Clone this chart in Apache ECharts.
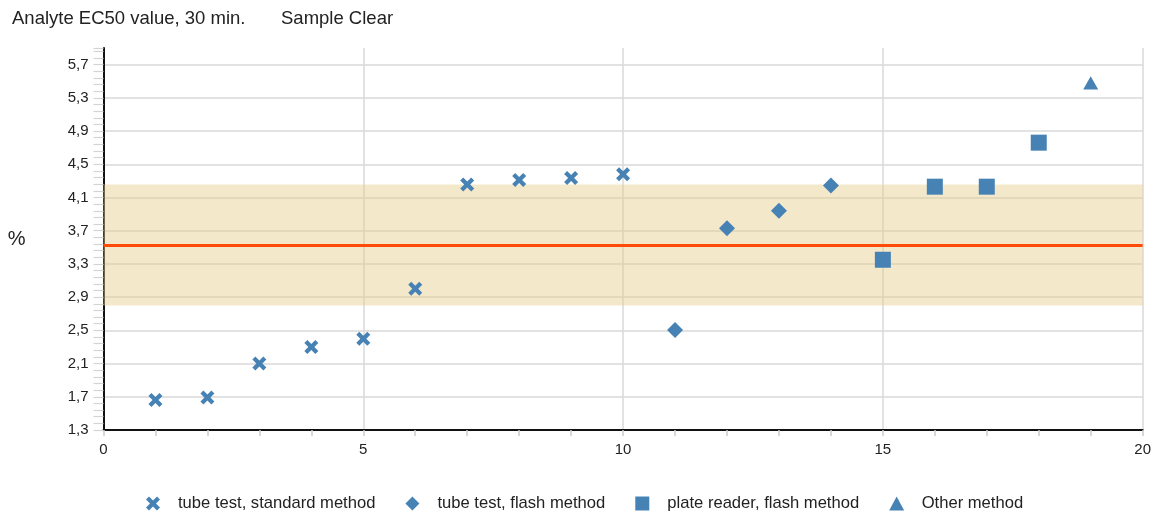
<!DOCTYPE html>
<html>
<head>
<meta charset="utf-8">
<script src="https://cdn.jsdelivr.net/npm/echarts@6/dist/echarts.min.js"></script>
<style>
html,body{margin:0;padding:0;background:#fff;}
#chart{width:1154px;height:511px;}
</style>
</head>
<body>
<div id="chart"></div>
<script>
const titleMain = 'Analyte EC50 value, 30 min.';
const titleSample = 'Sample Clear';
const yAxisName = '%';

const seriesNames = ['tube test, standard method', 'tube test, flash method', 'plate reader, flash method', 'Other method'];

const xStandard = [1, 2, 3, 4, 5, 6, 7, 8, 9, 10];
const yStandard = [1.66, 1.69, 2.10, 2.30, 2.40, 3.00, 4.255, 4.31, 4.335, 4.38];

const xFlash = [11, 12, 13, 14];
const yFlash = [2.505, 3.73, 3.94, 4.245];

const xPlate = [15, 16, 17, 18];
const yPlate = [3.35, 4.23, 4.23, 4.76];

const xOther = [19];
const yOther = [5.48];

const meanValue = 3.533;
const bandLow = 2.80;
const bandHigh = 4.255;

const xMin = 0, xMax = 20, xInterval = 5;
const yMin = 1.3, yMax = 5.9, yInterval = 0.4, yMinorInterval = 0.08;

const pairs = (xs, ys) => xs.map((x, i) => [x, ys[i]]);

const crossPath = 'path://M0,3 L3,0 L7,4 L11,0 L14,3 L10,7 L14,11 L11,14 L7,10 L3,14 L0,11 L4,7 Z';
const diamondPath = 'path://M7,0 L14,7 L7,14 L0,7 Z';
const squarePath = 'path://M0,0 L14,0 L14,14 L0,14 Z';
const trianglePath = 'path://M7.5,0 L15,14 L0,14 Z';
const markerColor = '#4682B4';
const font = 'Liberation Sans, Arial, sans-serif';

const chart = echarts.init(document.getElementById('chart'), null, {renderer: 'canvas'});

const option = {
  animation: false,
  backgroundColor: '#ffffff',
  textStyle: {fontFamily: font},
  title: [
    {text: titleMain, left: 12, top: 9, padding: 0, textStyle: {fontSize: 18.5, fontWeight: 'normal', color: '#222', fontFamily: font}},
    {text: titleSample, left: 281, top: 9, padding: 0, textStyle: {fontSize: 18.5, fontWeight: 'normal', color: '#222', fontFamily: font}}
  ],
  grid: {left: 103.5, right: 10.5, top: 48, bottom: 81, containLabel: false},
  legend: {
    left: 141,
    top: 490,
    itemWidth: 40,
    itemHeight: 14,
    itemGap: 30,
    symbolKeepAspect: true,
    textStyle: {fontSize: 16.6, color: '#222', fontFamily: font},
    data: [
      {name: seriesNames[0], icon: crossPath},
      {name: seriesNames[1], icon: diamondPath},
      {name: seriesNames[2], icon: squarePath},
      {name: seriesNames[3], icon: trianglePath}
    ]
  },
  xAxis: {
    type: 'value',
    min: xMin, max: xMax, interval: xInterval,
    axisLine: {show: true, onZero: false, lineStyle: {color: '#111', width: 2}},
    axisTick: {show: true, length: 6, lineStyle: {color: '#cccccc', width: 1.5}},
    minorTick: {show: true, splitNumber: 5, length: 6, lineStyle: {color: '#cccccc', width: 1.5}},
    axisLabel: {fontSize: 15, color: '#222', margin: 12, fontFamily: font},
    splitLine: {show: true, lineStyle: {color: '#d8d8d8', width: 1.5}}
  },
  yAxis: [
    {
      type: 'value',
      min: yMin, max: yMax, interval: yInterval,
      name: yAxisName,
      nameLocation: 'middle',
      nameRotate: 0,
      nameGap: 78,
      nameTextStyle: {fontSize: 20, color: '#222', fontFamily: font, padding: [0, 0, 4, 0]},
      axisLine: {show: true, onZero: false, lineStyle: {color: '#111', width: 2}},
      axisTick: {show: false},
      axisLabel: {
        fontSize: 15, color: '#222', margin: 15, fontFamily: font,
        showMaxLabel: false,
        formatter: v => v.toFixed(1).replace('.', ',')
      },
      splitLine: {show: true, showMaxLine: false, showMinLine: false, lineStyle: {color: '#d8d8d8', width: 1.5}}
    },
    {
      type: 'value',
      position: 'left',
      min: yMin, max: yMax, interval: yMinorInterval,
      axisLine: {show: false},
      axisTick: {show: true, length: 10, lineStyle: {color: '#d4d4d4', width: 1.2}},
      axisLabel: {show: false},
      splitLine: {show: false}
    }
  ],
  series: [
    {
      name: seriesNames[0], type: 'scatter',
      symbol: crossPath, symbolSize: 14, symbolKeepAspect: true,
      itemStyle: {color: markerColor, opacity: 1},
      data: pairs(xStandard, yStandard),
      z: 5,
      markArea: {
        silent: true,
        itemStyle: {color: 'rgba(230, 205, 140, 0.45)'},
        data: [[{yAxis: bandLow}, {yAxis: bandHigh}]]
      },
      markLine: {
        silent: true,
        symbol: 'none',
        label: {show: false},
        lineStyle: {color: '#ff4a0a', width: 3, type: 'solid'},
        data: [{yAxis: meanValue}]
      }
    },
    {
      name: seriesNames[1], type: 'scatter',
      symbol: diamondPath, symbolSize: 16, symbolKeepAspect: true,
      itemStyle: {color: markerColor, opacity: 1},
      data: pairs(xFlash, yFlash), z: 5
    },
    {
      name: seriesNames[2], type: 'scatter',
      symbol: squarePath, symbolSize: 16, symbolKeepAspect: true,
      itemStyle: {color: markerColor, opacity: 1},
      data: pairs(xPlate, yPlate), z: 5
    },
    {
      name: seriesNames[3], type: 'scatter',
      symbol: trianglePath, symbolSize: [15, 14], symbolKeepAspect: true,
      itemStyle: {color: markerColor, opacity: 1},
      data: pairs(xOther, yOther), z: 5
    }
  ]
};
chart.setOption(option);
</script>
</body>
</html>
